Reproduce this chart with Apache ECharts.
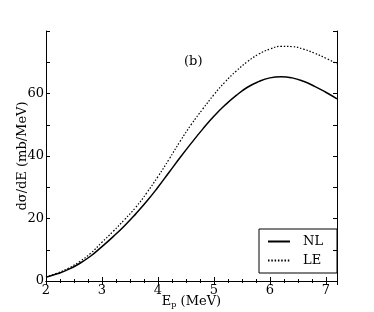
<!DOCTYPE html>
<html><head><meta charset="utf-8">
<script src="https://cdn.jsdelivr.net/npm/echarts@6/dist/echarts.min.js"></script>
<style>html,body{margin:0;padding:0;background:#fff}#c{width:374px;height:312px}</style>
</head><body><div id="c"></div>
<script>
var energies = [2.0,2.2,2.4,2.6,2.8,3.0,3.2,3.4,3.6,3.8,4.0,4.2,4.4,4.6,4.8,5.0,5.2,5.4,5.6,5.8,6.0,6.2,6.4,6.6,6.8,7.0,7.2];
var nlValues = [1.2,2.3,3.7,5.6,8.0,11.0,14.2,17.6,21.4,25.5,30.0,34.8,39.6,44.2,48.6,52.7,56.3,59.4,62.0,63.8,65.0,65.4,65.0,63.9,62.3,60.4,58.3];
var leValues = [1.3,2.5,4.1,6.2,8.9,12.4,15.9,19.6,23.5,28.2,33.4,39.0,44.8,50.2,55.0,59.6,63.7,67.2,70.2,72.6,74.2,75.1,75.0,74.2,72.9,71.3,69.5];
var seriesNames = ['NL','LE'];
var xTickLabels = ['2','3','4','5','6','7'];
var yTickLabels = ['0','20','40','60'];
var panelLabel = '(b)';

var FONT = 'DejaVu Serif';
function pairs(xs, ys){ return xs.map(function(x,i){ return [x, ys[i]]; }); }
var axisLine = {show:true, lineStyle:{color:'#000', width:1}};
var chart = echarts.init(document.getElementById('c'));
chart.setOption({
  animation:false,
  backgroundColor:'#fff',
  grid:{left:46, top:31, right:37, bottom:31, outerBoundsMode:'none', containLabel:false},
  title:{text:panelLabel, left:179, top:50, textStyle:{fontFamily:FONT, fontSize:13, fontWeight:'normal', color:'#000'}},
  legend:{
    data:seriesNames, orient:'vertical', left:259, top:229,
    width:70, padding:[6,14,6,8], itemGap:6, itemWidth:22, itemHeight:10,
    borderColor:'#000', borderWidth:1,
    itemStyle:{opacity:0},
    textStyle:{fontFamily:FONT, fontSize:13, color:'#000', padding:[0,0,0,8]}
  },
  xAxis:[{
    type:'value', min:2, max:7.2, interval:1,
    axisLine:axisLine,
    axisTick:{show:true, inside:true, length:4, lineStyle:{color:'#000'}},
    minorTick:{show:true, splitNumber:4, length:2, lineStyle:{color:'#000'}},
    splitLine:{show:false},
    axisLabel:{fontFamily:FONT, fontSize:13, color:'#000', margin:3,
      formatter:function(v){ var s=String(v); return xTickLabels.indexOf(s)>=0 ? s : ''; }},
    name:'E{sub|p} (MeV)', nameLocation:'middle', nameGap:14, nameMoveOverlap:false,
    nameTextStyle:{fontFamily:FONT, fontSize:13, color:'#000',
      rich:{sub:{fontFamily:FONT, fontSize:8, color:'#000', verticalAlign:'bottom', padding:[6,0,0,0]}}}
  },{
    type:'value', position:'top', min:2, max:7.2, interval:1,
    axisLine:axisLine,
    axisTick:{show:true, inside:true, length:4, lineStyle:{color:'#000'}},
    minorTick:{show:true, splitNumber:4, length:2, lineStyle:{color:'#000'}},
    splitLine:{show:false}, axisLabel:{show:false}
  }],
  yAxis:[{
    type:'value', min:0, max:80, interval:20,
    axisLine:axisLine,
    axisTick:{show:true, inside:true, length:4, lineStyle:{color:'#000'}},
    minorTick:{show:true, splitNumber:2, length:4, lineStyle:{color:'#000'}},
    splitLine:{show:false},
    axisLabel:{fontFamily:FONT, fontSize:13, color:'#000', margin:2,
      formatter:function(v){ var s=String(v); return yTickLabels.indexOf(s)>=0 ? s : ''; }},
    name:'d\u03c3/dE (mb/MeV)', nameLocation:'middle', nameGap:17, nameMoveOverlap:false,
    nameTextStyle:{fontFamily:FONT, fontSize:13, color:'#000'}
  },{
    type:'value', position:'right', min:0, max:80, interval:20,
    axisLine:axisLine,
    axisTick:{show:true, inside:true, length:4, lineStyle:{color:'#000'}},
    minorTick:{show:true, splitNumber:2, length:4, lineStyle:{color:'#000'}},
    splitLine:{show:false}, axisLabel:{show:false}
  }],
  series:[
    {name:seriesNames[0], type:'line', data:pairs(energies,nlValues), smooth:true, symbol:'none',
     lineStyle:{color:'#000', width:1.5, type:'solid'}, itemStyle:{color:'#000'}},
    {name:seriesNames[1], type:'line', data:pairs(energies,leValues), smooth:true, symbol:'none',
     lineStyle:{color:'#000', width:1.2, type:[1.5,1.8]}, itemStyle:{color:'#000'}}
  ]
});
</script></body></html>
